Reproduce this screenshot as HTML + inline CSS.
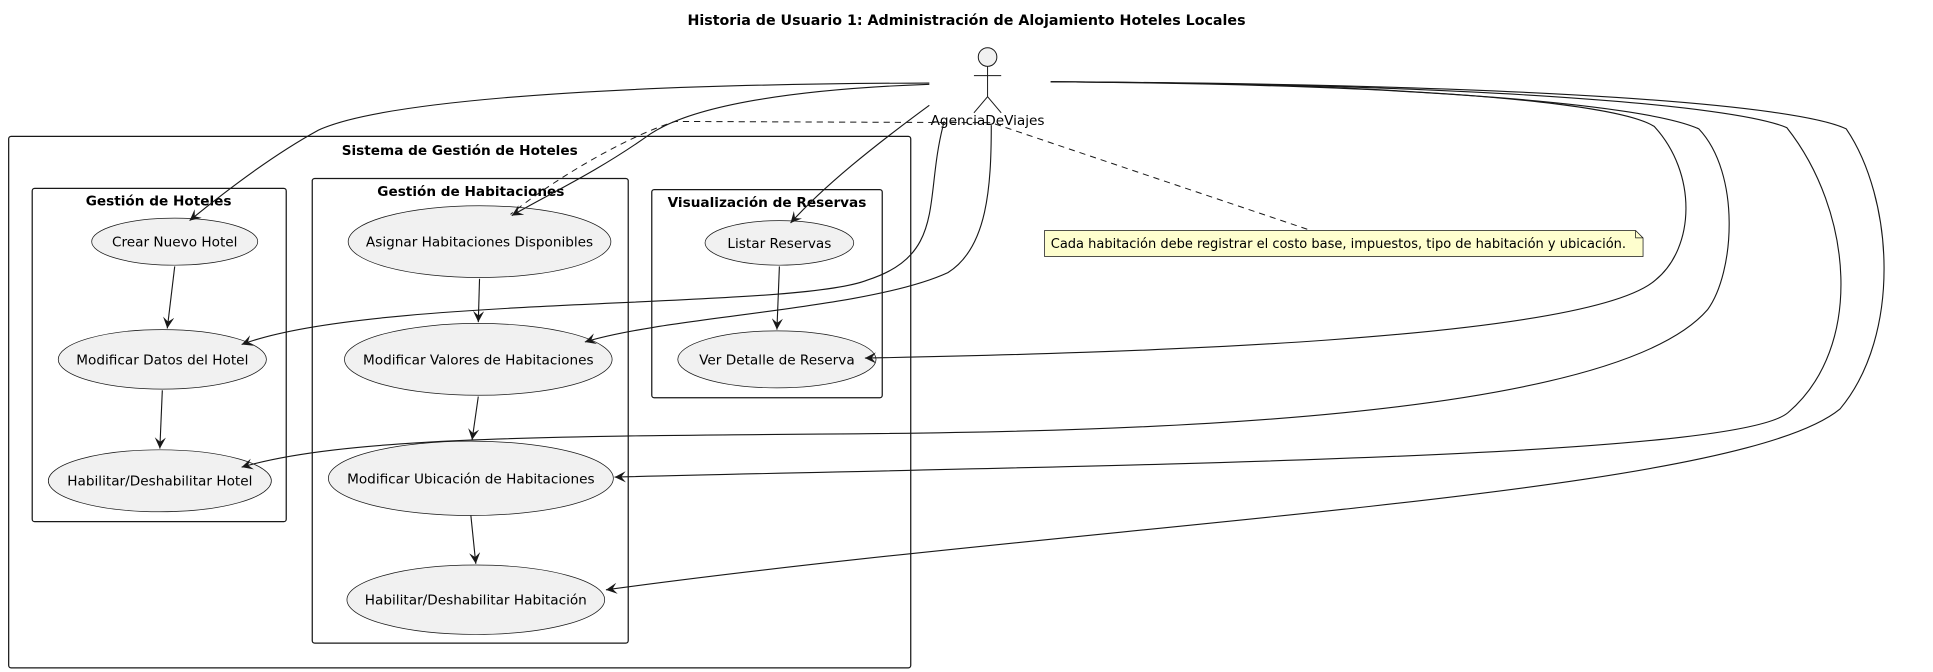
<!DOCTYPE html>
<html><head><meta charset="utf-8"><style>
html,body{margin:0;padding:0;background:#fff;}
svg{display:block;}
text{font-family:"DejaVu Sans","Liberation Sans",sans-serif;fill:#000;}
</style></head><body>
<svg width="1933" height="672" viewBox="0 0 1560 542.3" xmlns="http://www.w3.org/2000/svg">
<defs>
<marker id="a" viewBox="0 0 10 10" refX="10" refY="5" markerWidth="9" markerHeight="9" orient="auto" markerUnits="userSpaceOnUse">
<path d="M0,0 L10,5 L0,10 L4,5 Z" fill="#181818"/>
</marker>
</defs>
<text x="780" y="20" font-size="11.5" font-weight="bold" text-anchor="middle">Historia de Usuario 1: Administración de Alojamiento Hoteles Locales</text>

<g stroke="#181818" stroke-width="0.8" fill="none">
<circle cx="797" cy="46" r="7.5" fill="#f1f1f1"/>
<line x1="797" y1="53.5" x2="797" y2="78"/>
<line x1="786" y1="61" x2="808" y2="61"/>
<line x1="797" y1="78" x2="786" y2="91"/>
<line x1="797" y1="78" x2="808" y2="91"/>
</g>
<text x="797" y="101" font-size="11" text-anchor="middle">AgenciaDeViajes</text>

<g fill="none" stroke="#181818" stroke-width="1">
<rect x="7" y="110" width="728" height="429" rx="2"/>
<rect x="26" y="152" width="205" height="269" rx="2"/>
<rect x="252" y="144" width="255" height="375" rx="2"/>
<rect x="526" y="153" width="186" height="168" rx="2"/>
</g>
<g font-size="11" font-weight="bold" text-anchor="middle">
<text x="371" y="125">Sistema de Gestión de Hoteles</text>
<text x="128" y="166">Gestión de Hoteles</text>
<text x="380" y="158">Gestión de Habitaciones</text>
<text x="619" y="167">Visualización de Reservas</text>
</g>

<g fill="#f1f1f1" stroke="#181818" stroke-width="0.6">
<ellipse cx="141" cy="195" rx="67" ry="19"/>
<ellipse cx="131" cy="290" rx="84" ry="24"/>
<ellipse cx="129" cy="388" rx="90" ry="25"/>
<ellipse cx="387" cy="195" rx="106" ry="29"/>
<ellipse cx="386" cy="290" rx="108" ry="29"/>
<ellipse cx="380" cy="386" rx="115" ry="30"/>
<ellipse cx="384" cy="484" rx="104" ry="28"/>
<ellipse cx="629" cy="196" rx="60" ry="18"/>
<ellipse cx="627" cy="290" rx="80" ry="23"/>
</g>
<g font-size="11" text-anchor="middle">
<text x="141" y="199">Crear Nuevo Hotel</text>
<text x="131" y="294">Modificar Datos del Hotel</text>
<text x="129" y="392">Habilitar/Deshabilitar Hotel</text>
<text x="387" y="199">Asignar Habitaciones Disponibles</text>
<text x="386" y="294">Modificar Valores de Habitaciones</text>
<text x="380" y="390">Modificar Ubicación de Habitaciones</text>
<text x="384" y="488">Habilitar/Deshabilitar Habitación</text>
<text x="629" y="200">Listar Reservas</text>
<text x="627" y="294">Ver Detalle de Reserva</text>
</g>

<path d="M843,186 L1320,186 L1326,192 L1326,207 L843,207 Z" fill="#fefece" stroke="#181818" stroke-width="0.6"/>
<path d="M1320,186 L1320,192 L1326,192" fill="none" stroke="#181818" stroke-width="0.6"/>
<text x="848" y="200" font-size="10.5">Cada habitación debe registrar el costo base, impuestos, tipo de habitación y ubicación.</text>
<path d="M1055,185 L800,99 L545,98 C500,112 440,150 412,173" fill="none" stroke="#181818" stroke-width="0.8" stroke-dasharray="5,4"/>

<g fill="none" stroke="#181818" stroke-width="0.9" marker-end="url(#a)">
<path d="M750,67 C450,68 300,85 257,105 C215,128 175,160 153,178"/>
<path d="M750,68 C640,72 560,85 525,108 C480,140 440,158 413,174"/>
<path d="M750,85 C705,118 665,150 638,180"/>
<path d="M762,98 C745,160 765,205 700,226 C640,250 300,238 195,278"/>
<path d="M800,101 C800,150 797,200 765,220 C700,250 540,255 472,276"/>
<path d="M848,66 C1100,67 1300,80 1335,102 C1370,140 1368,200 1336,226 C1280,275 900,285 698,289"/>
<path d="M848,66 C1150,68 1330,85 1371,104 C1405,140 1400,220 1378,250 C1300,340 900,348 700,350 C450,352 280,352 195,377"/>
<path d="M848,66 C1200,68 1400,85 1442,103 C1495,170 1505,280 1443,333 C1400,370 900,375 496,385"/>
<path d="M848,66 C1250,68 1450,85 1490,104 C1528,160 1535,270 1485,330 C1400,400 900,420 489,476"/>
<path d="M141,215 L135,265"/>
<path d="M131,315 L129,362"/>
<path d="M387,225 L386,260"/>
<path d="M386,320 L381,355"/>
<path d="M380,416 L384,455"/>
<path d="M629,215 L627,266"/>
</g>
</svg>
</body></html>
